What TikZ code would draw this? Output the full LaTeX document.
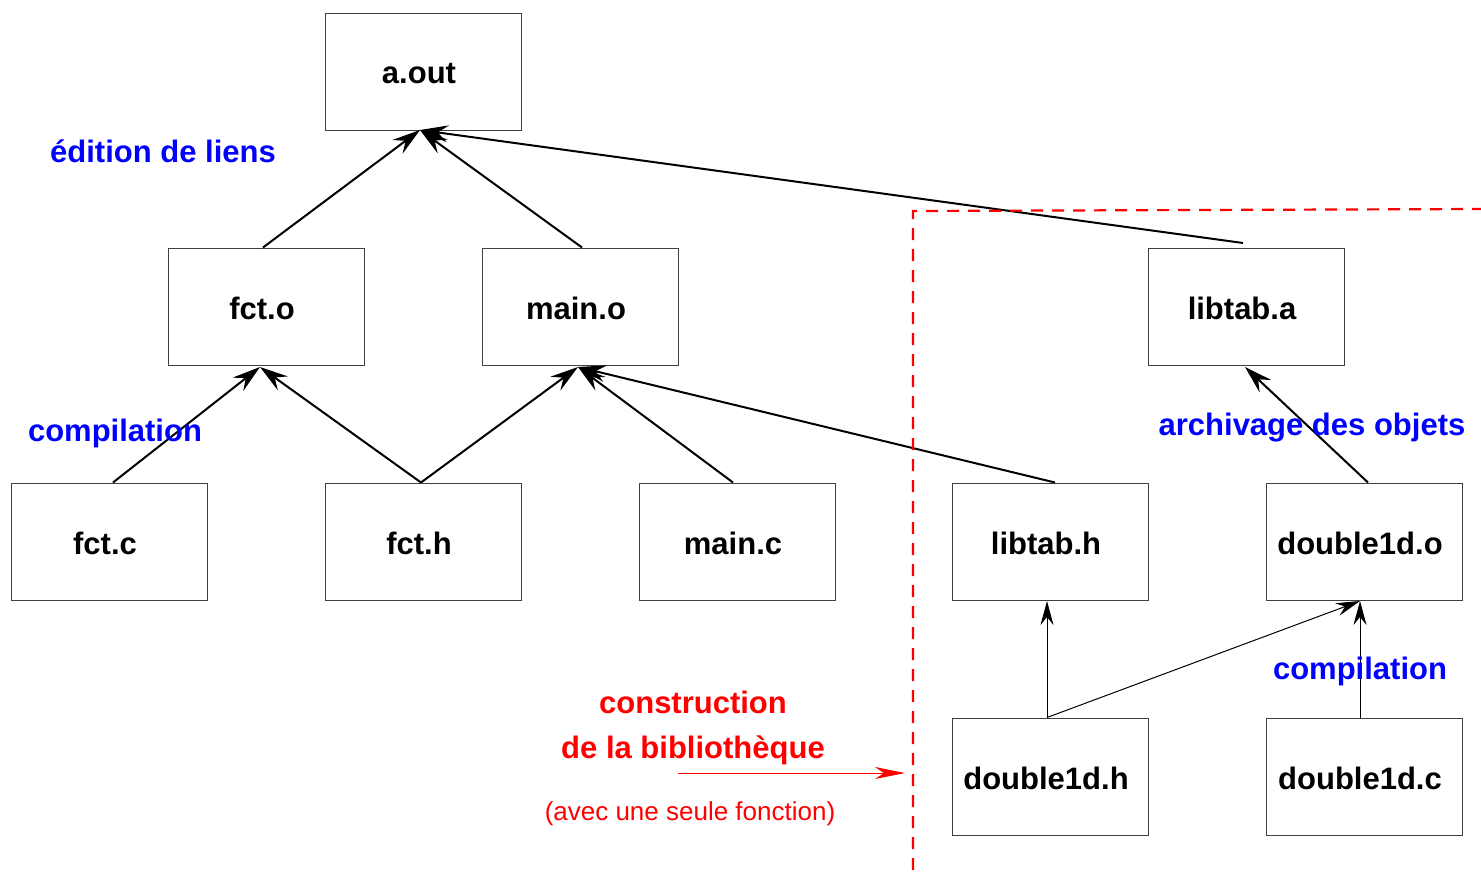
\documentclass[tikz,border=0pt]{standalone}
\usepackage{fontspec}
\setmainfont{Liberation Sans}
\usetikzlibrary{arrows.meta}
\definecolor{lblue}{RGB}{0,0,255}
\definecolor{lred}{RGB}{255,0,0}
\tikzset{
  filebox/.style={draw=black!75, line width=1pt, minimum width=196pt, minimum height=117pt, inner sep=0pt},
  boxtext/.style={font=\fontsize{31}{37}\selectfont\bfseries, inner sep=0pt},
  dep/.style={line width=2pt, -{Stealth[length=28pt,width=17pt,inset=10pt]}},
  thindep/.style={line width=1pt, -{Stealth[length=24pt,width=13pt,inset=8pt]}},
  bluelab/.style={text=lblue, font=\fontsize{31}{37}\selectfont\bfseries},
  redlab/.style={text=lred, font=\fontsize{31}{37}\selectfont\bfseries},
}
\begin{document}
\begin{tikzpicture}[x=1pt,y=-1pt]
\useasboundingbox (0,0) rectangle (1481,873);
\node[filebox] (aout) at (423,71.5) {};
\node[filebox] (fcto) at (266,306.5) {};
\node[filebox] (maino) at (580,306.5) {};
\node[filebox] (libtaba) at (1246,306.5) {};
\node[filebox] (fctc) at (109,541.5) {};
\node[filebox] (fcth) at (423,541.5) {};
\node[filebox] (mainc) at (737,541.5) {};
\node[filebox] (libtabh) at (1050,541.5) {};
\node[filebox] (dodo) at (1364,541.5) {};
\node[filebox] (dodh) at (1050,776.5) {};
\node[filebox] (dodc) at (1364,776.5) {};
\node[boxtext] (taout) at ([xshift=-4pt,yshift=-2pt]aout.center) {a.out};
\node[boxtext] (tfcto) at ([xshift=-4pt,yshift=-2pt]fcto.center) {fct.o};
\node[boxtext] (tmaino) at ([xshift=-4pt,yshift=-2pt]maino.center) {main.o};
\node[boxtext] (tlibtaba) at ([xshift=-4pt,yshift=-2pt]libtaba.center) {libtab.a};
\node[boxtext] (tfctc) at ([xshift=-4pt,yshift=-2pt]fctc.center) {fct.c};
\node[boxtext] (tfcth) at ([xshift=-4pt,yshift=-2pt]fcth.center) {fct.h};
\node[boxtext] (tmainc) at ([xshift=-4pt,yshift=-2pt]mainc.center) {main.c};
\node[boxtext] (tlibtabh) at ([xshift=-4pt,yshift=-2pt]libtabh.center) {libtab.h};
\node[boxtext] (tdodo) at ([xshift=-4pt,yshift=-2pt]dodo.center) {double1d.o};
\node[boxtext] (tdodh) at ([xshift=-4pt,yshift=-2pt]dodh.center) {double1d.h};
\node[boxtext] (tdodc) at ([xshift=-4pt,yshift=-2pt]dodc.center) {double1d.c};

\coordinate (aoutin) at (420,130);
\coordinate (fctoin) at (260,367);
\coordinate (mainoin) at (578,367);
\coordinate (libtabain) at (1245,367);
\coordinate (libtabhin) at (1047,601);
\coordinate (dodoin) at (1360,601);
\coordinate (libtabaout) at (1243,243);

\draw[dep] (fcto.north -| 263,0) -- (aoutin);
\draw[dep] (maino.north -| 582,0) -- (aoutin);
\draw[dep] (libtabaout) -- (aoutin);
\draw[dep] (fctc.north -| 113,0) -- (fctoin);
\draw[dep] (fcth.north -| 421,0) -- (fctoin);
\draw[dep] (fcth.north -| 421,0) -- (mainoin);
\draw[dep] (mainc.north -| 733,0) -- (mainoin);
\draw[dep] (libtabh.north -| 1055,0) -- (mainoin);
\draw[dep] (dodo.north -| 1368,0) -- (libtabain);
\draw[thindep] (dodh.north -| 1047,0) -- (libtabhin);
\draw[thindep] (dodh.north -| 1047,0) -- (dodoin);
\draw[thindep] (dodc.north -| 1360,0) -- (dodoin);

\coordinate (dA) at (913,870);
\coordinate (dB) at (913,211);
\coordinate (dC) at (1481,209);
\draw[lred, line width=2.2pt, dash pattern=on 12pt off 9pt] (dA) -- (dB) -- (dC);

\node[bluelab] (edl) at (163,151) {édition de liens};
\node[bluelab] (comp1) at (115,433) {compilation};
\node[bluelab] (arch) at (1312,428) {archivage des objets};
\node[bluelab] (comp2) at (1360,671) {compilation};
\node[redlab] (cons1) at (693,702) {construction};
\node[redlab] (cons2) at (693,750) {de la bibliothèque};
\node[text=lred, font=\fontsize{26}{31}\selectfont] (avec) at (690,814) {(avec une seule fonction)};
\coordinate (rs) at (678,773);
\coordinate (re) at (905,773);
\draw[lred, line width=1pt, -{Stealth[length=30pt,width=12pt,inset=9pt]}] (rs) -- (re);
\end{tikzpicture}
\end{document}
